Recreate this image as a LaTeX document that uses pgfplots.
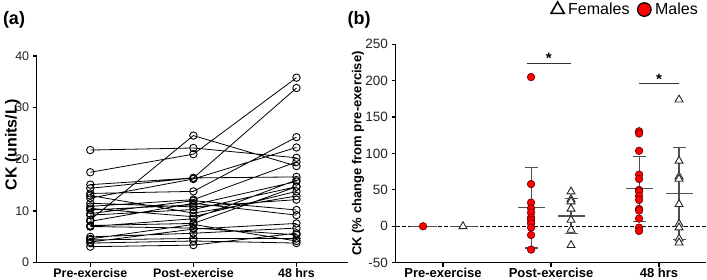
\documentclass[border=0pt]{standalone}
\usepackage{pgfplots}
\usepackage{pgfplotstable}
\pgfplotsset{compat=1.18}
\usepackage{fontspec}
\setmainfont{Liberation Sans}

\definecolor{malered}{HTML}{FF0000}
\definecolor{maleedge}{HTML}{600000}
\definecolor{meangray}{HTML}{505050}
\definecolor{ticktext}{HTML}{262626}

% Individual CK values (units/L); a nan row separates one subject from the next
\pgfplotstableread{
x y
0 21.8
1 22.2
2 20.3
0 nan
0 17.5
1 21.0
2 35.8
0 nan
0 8.3
1 24.6
2 18.7
0 nan
0 15.1
1 16.4
2 33.8
0 nan
0 14.4
1 16.4
2 16.6
0 nan
0 13.4
1 13.8
2 24.3
0 nan
0 12.5
1 16.2
2 22.3
0 nan
0 10.9
1 12.2
2 19.5
0 nan
0 10.2
1 11.2
2 15.7
0 nan
0 9.2
1 10.3
2 14.7
0 nan
0 13.0
1 9.6
2 12.9
0 nan
0 10.5
1 8.9
2 13.8
0 nan
0 9.5
1 12.0
2 10.2
0 nan
0 8.0
1 11.5
2 9.2
0 nan
0 7.0
1 8.5
2 16.0
0 nan
0 7.2
1 7.6
2 14.7
0 nan
0 7.0
1 6.7
2 5.4
0 nan
0 5.0
1 5.7
2 6.7
0 nan
0 4.4
1 4.7
2 4.7
0 nan
0 4.0
1 6.5
2 7.6
0 nan
0 3.8
1 4.2
2 3.8
0 nan
0 3.1
1 3.4
2 5.7
0 nan
0 4.6
1 7.4
2 4.2
0 nan
0 11.5
1 10.8
2 12.2
}\subjects

% % change from pre-exercise, males
\pgfplotstableread{
x y
-0.185 0
0.815 205
0.815 58
0.815 32.5
0.815 24.7
0.815 18.7
0.815 12
0.815 8.7
0.815 4
0.815 -1.8
0.815 -12
0.815 -32
1.815 130.5
1.815 127.5
1.815 103.7
1.815 71
1.815 65
1.815 50
1.815 48
1.815 41.7
1.815 36.2
1.815 23.9
1.815 21.6
1.815 10.6
1.815 -1.8
1.815 -6.4
}\males

% % change from pre-exercise, females
\pgfplotstableread{
x y
0.185 0
1.185 47.6
1.185 37
1.185 34
1.185 24
1.185 8.7
1.185 -5
1.185 -26
2.185 173.9
2.185 89.9
2.185 68.3
2.185 65
2.185 30.3
2.185 3.2
2.185 -1.8
2.185 -17
2.185 -22.5
}\females

% group mean and SD
\pgfplotstableread{
x mean sd
-0.185 0 0
0.185 0 0
0.815 25.7 55.5
1.185 14.2 23.6
1.815 51.4 44.5
2.185 45.4 63.0
}\summary

\pgfplotsset{
  ckaxis/.style={
    scale only axis,
    axis x line*=bottom,
    axis y line*=left,
    axis line style={line width=1.3pt, black},
    tick align=outside,
    major tick length=4pt,
    every tick/.style={black, line width=1.2pt},
    /pgf/number format/assume math mode=true,
    xtick={0,1,2},
    xticklabels={Pre-exercise,Post-exercise,48 hrs},
    clip=false,
  },
}

\begin{document}
\begin{tikzpicture}[x=1pt,y=1pt]
\useasboundingbox (0,0) rectangle (707,280);

% ---------- (a) individual responses ----------
\begin{axis}[ckaxis,
  at={(36.7pt,17.3pt)}, anchor=south west,
  width=311.3pt, height=206.7pt,
  xmin=-0.52, xmax=2.5, ymin=0, ymax=40,
  ytick={0,10,20,30,40},
  x tick label style={font=\fontsize{12.4}{14}\selectfont\bfseries,
    anchor=base, inner sep=0pt, yshift=-10.6pt},
  y tick label style={font=\fontsize{12.5}{14}\selectfont, color=ticktext},
  ylabel={CK (units/L)},
  ylabel style={font=\fontsize{16}{18}\selectfont\bfseries,
    at={(axis description cs:-0.078,0.57)}, anchor=center},
]
\addplot[black, line width=0.8pt, unbounded coords=jump, no marks]
  table[x=x, y=y] {\subjects};
\addplot[only marks, mark=o, mark size=3.7pt,
  mark options={fill=white, draw=black, line width=0.9pt}]
  table[x=x, y=y] {\subjects};
\end{axis}

% ---------- (b) % change by sex ----------
\begin{axis}[ckaxis,
  at={(395.5pt,17.3pt)}, anchor=south west,
  width=310.5pt, height=218.4pt,
  xmin=-0.44, xmax=2.435, ymin=-50, ymax=250,
  ytick={-50,0,50,100,150,200,250},
  x tick label style={font=\fontsize{13}{15}\selectfont\bfseries,
    anchor=base, inner sep=0pt, yshift=-10.8pt},
  y tick label style={font=\fontsize{13.5}{15}\selectfont, color=ticktext},
  ylabel={CK (\% change from pre-exercise)},
  ylabel style={font=\fontsize{13}{15}\selectfont\bfseries,
    at={(axis description cs:-0.1208,0.5)}, anchor=center},
  legend style={draw=none, fill=none, at={(1,1)}, anchor=south east,
    xshift=-6pt, yshift=26pt, inner sep=0pt,
    font=\fontsize{16}{18}\selectfont,
    nodes={font=\fontsize{16}{18}\selectfont},
    /tikz/every odd column/.append style={column sep=2pt},
    /tikz/every even column/.append style={column sep=6pt}},
  legend columns=2,
  legend cell align=left,
]
% baseline
\addplot[forget plot, black, line width=0.8pt, dash pattern=on 4pt off 2pt]
  coordinates {(-0.44,0) (2.435,0)};
% mean +/- SD
\addplot[forget plot, meangray, only marks, mark=-, mark size=13.5pt,
  mark options={line width=1.2pt},
  error bars/.cd, y dir=both, y explicit,
  error bar style={meangray, line width=1.1pt},
  error mark options={meangray, mark size=6.5pt, line width=1.1pt, rotate=90}]
  table[x=x, y=mean, y error=sd] {\summary};
% individual values
\addplot[forget plot, only marks, mark=*, mark size=3.8pt,
  mark options={fill=malered, draw=maleedge, line width=0.6pt}]
  table[x=x, y=y] {\males};
\addplot[forget plot, only marks, mark=triangle*, mark size=4.6pt,
  mark options={fill=white, draw=black!85, line width=0.9pt}]
  table[x=x, y=y] {\females};
% significance markers
\addplot[forget plot, black!80, line width=1pt]
  coordinates {(0.775,224) (1.182,224)};
\addplot[forget plot, black!80, line width=1pt]
  coordinates {(1.812,196) (2.185,196)};
\node[anchor=base, font=\fontsize{15}{17}\selectfont\bfseries]
  at (axis cs:0.98,223) {*};
\node[anchor=base, font=\fontsize{15}{17}\selectfont\bfseries]
  at (axis cs:2.0,195) {*};
% legend
\addlegendimage{only marks, mark=triangle*, mark size=7.6pt,
  mark options={fill=white, draw=black, line width=1.6pt}}
\addlegendentry{Females}
\addlegendimage{only marks, mark=*, mark size=6.8pt,
  mark options={fill=malered, draw=black, line width=1.2pt}}
\addlegendentry{Males}
\end{axis}

\node[font=\fontsize{18}{20}\selectfont\bfseries] at (14,260) {(a)};
\node[font=\fontsize{18}{20}\selectfont\bfseries] at (359,260) {(b)};
\end{tikzpicture}
\end{document}
